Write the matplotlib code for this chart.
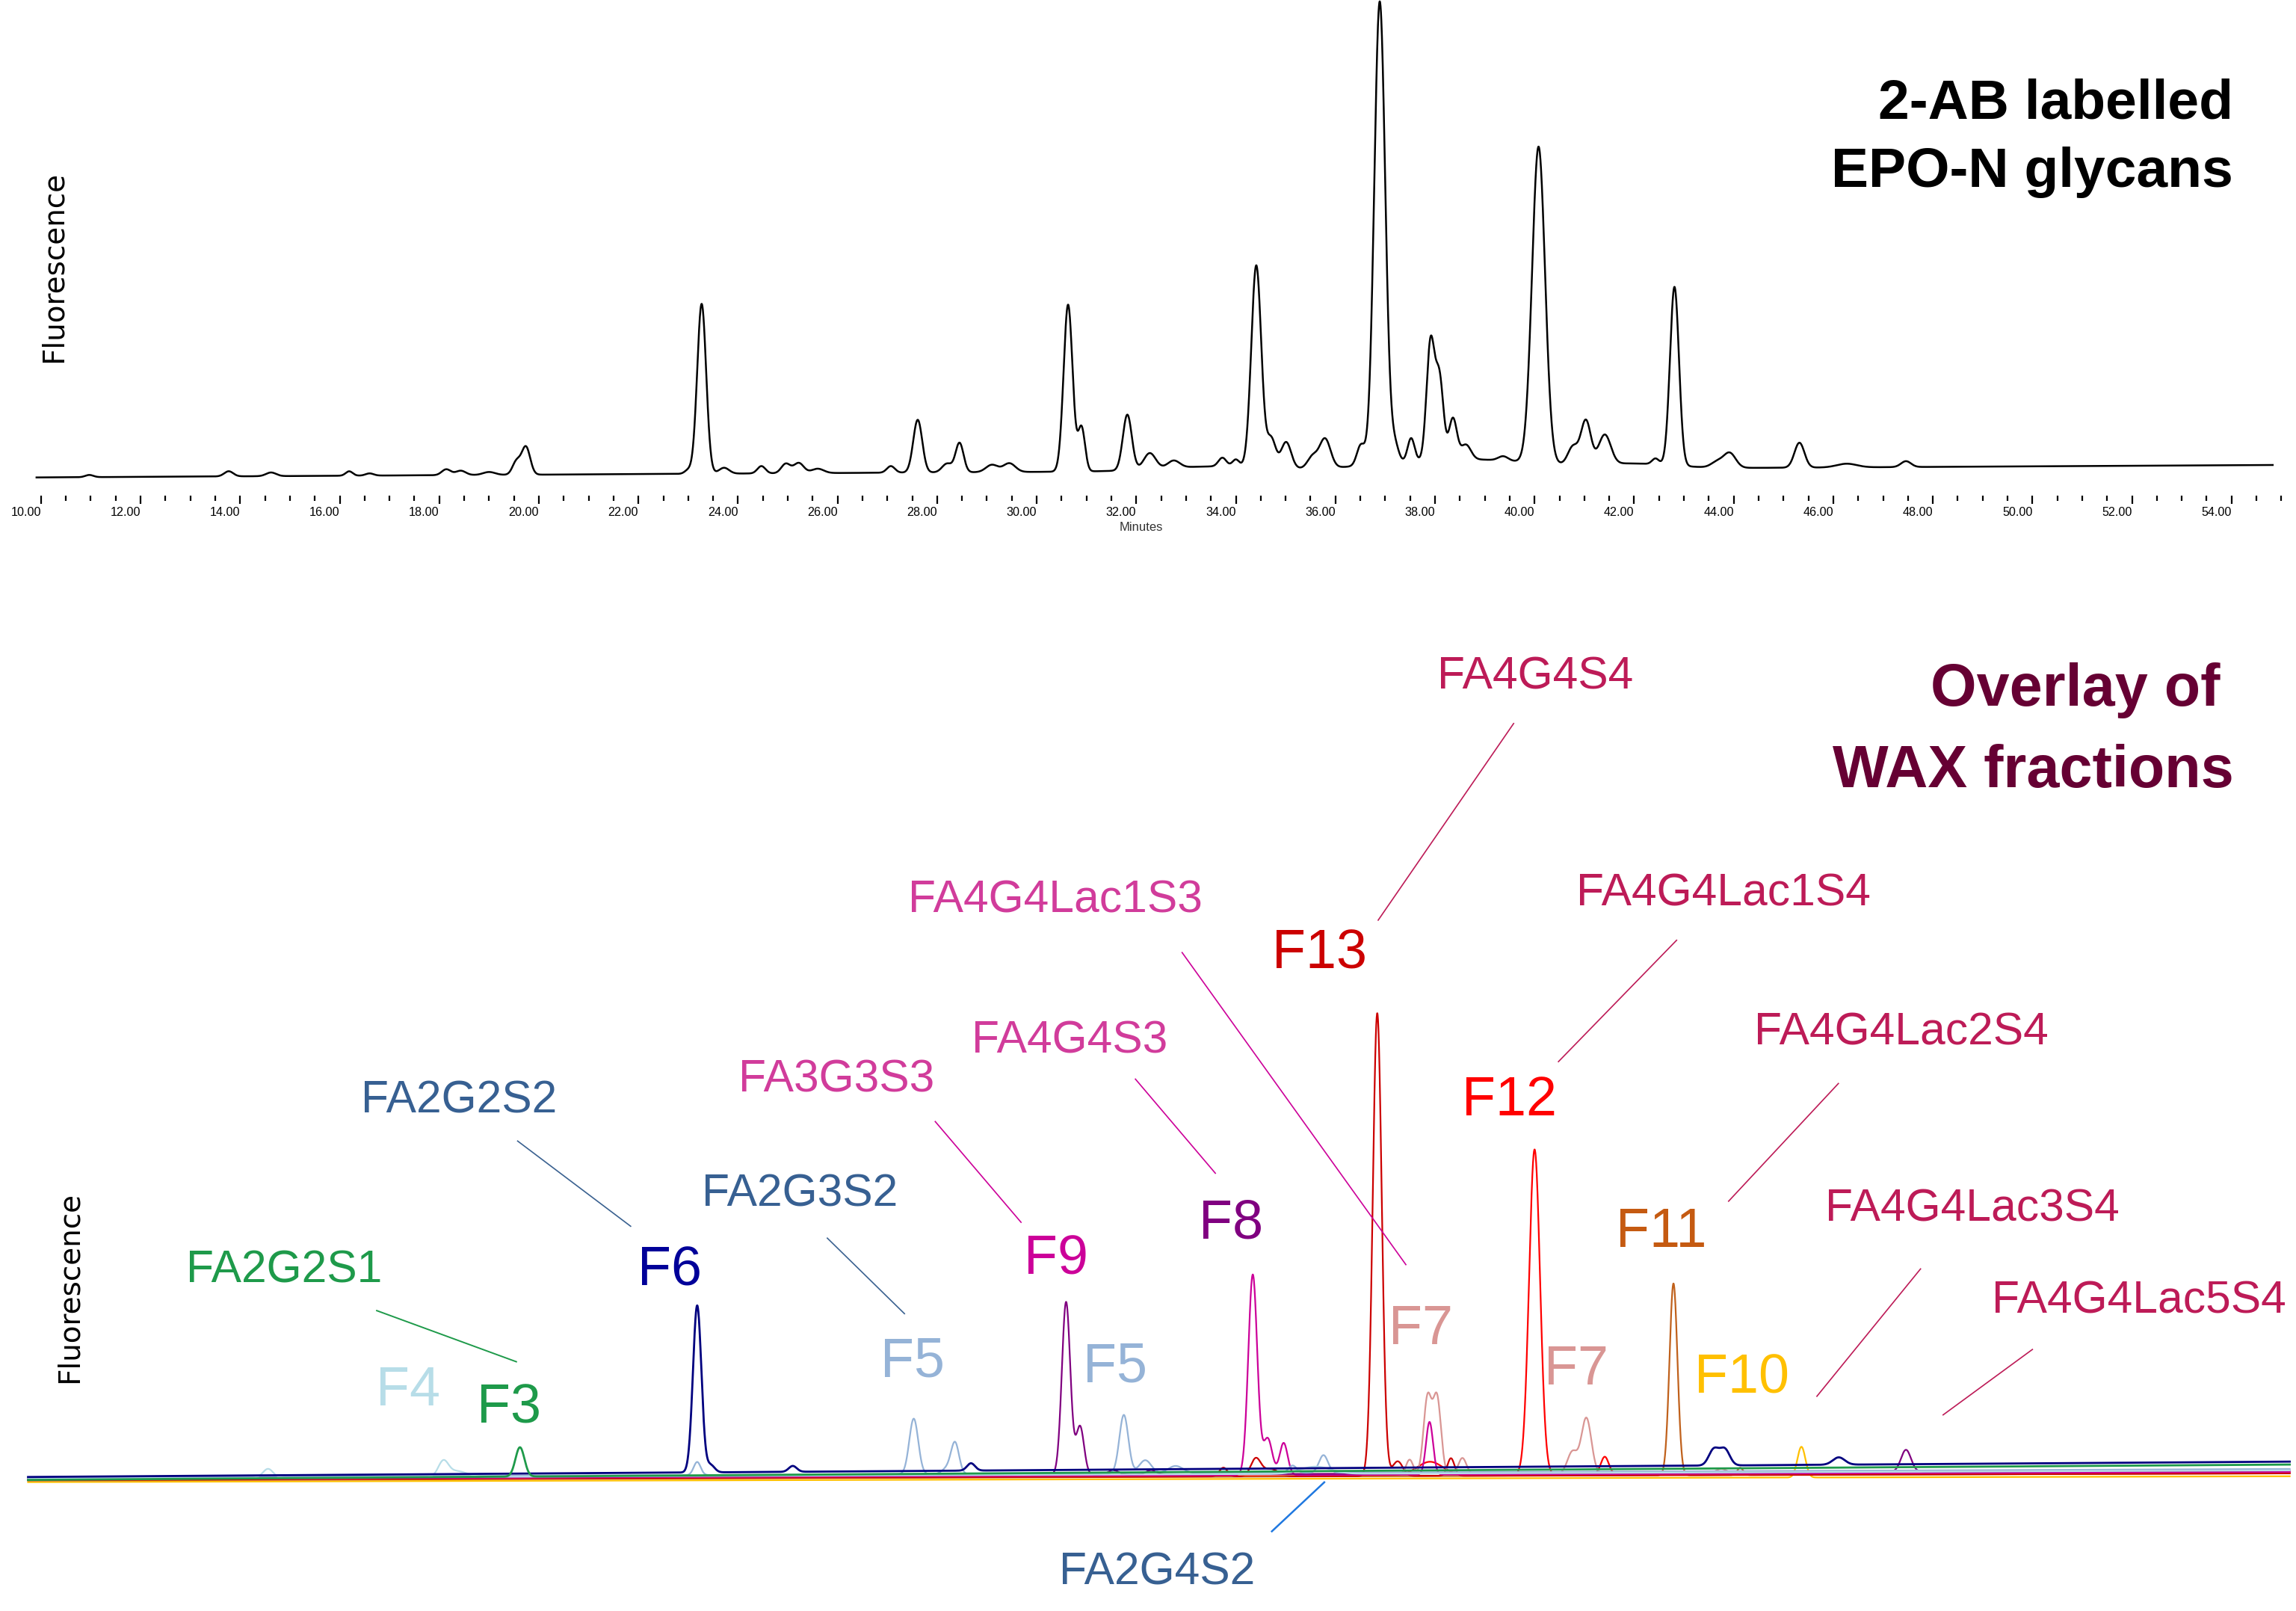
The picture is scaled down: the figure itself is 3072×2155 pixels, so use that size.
import numpy as np
import matplotlib.pyplot as plt
import matplotlib.transforms as mtransforms

#################################################################
#####   DATA               #####
#################################################################
# top chromatogram: retention time (min), height, peak width sigma (min)
top_rt = [10.97, 13.77, 14.62, 16.19, 16.6, 18.14, 18.43, 19.0, 19.55, 19.74,
          23.0, 23.27, 23.72, 24.47, 24.96, 25.22, 25.6, 27.07, 27.61, 28.2,
          28.45, 29.1, 29.45, 30.63, 30.9, 31.82, 32.27, 32.75, 33.73, 34.0,
          34.41, 34.71, 35.01, 35.54, 35.79, 36.51, 36.89, 37.19, 37.52, 37.91,
          38.09, 38.36, 38.62, 39.37, 40.08, 40.77, 41.03, 41.41, 42.43, 42.81,
          43.67, 43.92, 45.32, 46.27, 47.46, 33.5, 38.5, 42.0]
top_height = [1.5, 3.5, 2.5, 3.0, 1.5, 4.0, 3.0, 2.0, 9, 19,
              2.5, 116, 4, 5, 6.5, 7, 3, 4.5, 36, 6,
              20, 5, 6, 114, 30, 38, 11, 5, 6, 5,
              138, 20, 18, 8, 20, 14, 316, 12, 16, 80,
              55, 28, 10, 3, 216, 12, 30, 20, 4, 122,
              4, 10, 17, 2.5, 4, 3, 7, 3]
top_sigma = [0.08, 0.09, 0.1, 0.07, 0.08, 0.09, 0.1, 0.12, 0.08, 0.085,
             0.07, 0.09, 0.1, 0.08, 0.09, 0.1, 0.12, 0.08, 0.09, 0.1,
             0.08, 0.12, 0.12, 0.09, 0.07, 0.09, 0.12, 0.12, 0.08, 0.07,
             0.1, 0.09, 0.1, 0.1, 0.11, 0.08, 0.11, 0.08, 0.07, 0.08,
             0.08, 0.08, 0.1, 0.1, 0.13, 0.1, 0.1, 0.12, 0.07, 0.09,
             0.12, 0.12, 0.1, 0.2, 0.1, 1.0, 1.5, 0.8]
top_span = (9.91, 54.83)
top_drift = (0.0, 8.5)

# WAX fractions overlay: peaks per fraction trace
fractions = ['F10', 'F11', 'F12', 'F13', 'F7', 'F8', 'F9', 'F5', 'F4', 'F6', 'F3']
frac_rt = {
    'F3': [19.62],
    'F4': [14.56, 18.08, 18.35, 35.6],
    'F5': [23.18, 27.53, 28.2, 28.36, 31.75, 32.18, 32.79, 35.14, 35.76],
    'F6': [23.18, 23.45, 25.1, 28.68, 43.6, 43.82, 46.11],
    'F7': [37.49, 37.85, 38.04, 38.55, 40.76, 41.04, 43.75],
    'F8': [34.34, 34.64, 34.96, 37.89],
    'F9': [30.59, 30.87, 31.54, 32.3, 47.46],
    'F10': [45.36],
    'F11': [42.79, 44.13],
    'F12': [37.9, 40.0, 41.41],
    'F13': [33.75, 34.4, 34.7, 36.84, 37.25, 38.32],
}
frac_height = {
    'F3': [20],
    'F4': [6, 10, 4, 5],
    'F5': [9, 38, 4, 21, 40, 9, 5, 5, 12],
    'F6': [114, 5, 4, 5, 11, 11, 5],
    'F7': [10, 52, 52, 11, 15, 38, 3],
    'F8': [137, 25, 22, 36],
    'F9': [118, 33, 3, 3, 15],
    'F10': [21],
    'F11': [131, 5],
    'F12': [9, 222, 12],
    'F13': [6, 12, 5, 316, 10, 12],
}
frac_sigma = {
    'F3': [0.09],
    'F4': [0.1, 0.1, 0.2, 0.3],
    'F5': [0.07, 0.09, 0.1, 0.08, 0.09, 0.12, 0.15, 0.08, 0.09],
    'F6': [0.085, 0.08, 0.08, 0.08, 0.1, 0.1, 0.12],
    'F7': [0.07, 0.08, 0.08, 0.08, 0.1, 0.1, 0.1],
    'F8': [0.09, 0.09, 0.08, 0.07],
    'F9': [0.085, 0.08, 0.1, 0.1, 0.1],
    'F10': [0.08],
    'F11': [0.08, 0.06],
    'F12': [0.25, 0.11, 0.08],
    'F13': [0.08, 0.1, 0.15, 0.09, 0.1, 0.07],
}
# baseline level at start / end of the run
frac_drift = {
    'F3': (1.5, 12), 'F4': (2.5, 8), 'F5': (3, 9), 'F6': (3.5, 14),
    'F7': (2, 7.5), 'F8': (2, 7), 'F9': (2.5, 8), 'F10': (0, 4),
    'F11': (1, 6), 'F12': (1.5, 7), 'F13': (1.5, 6),
}
frac_span = (9.74, 55.17)

major_ticks = np.arange(10, 55, 2)
minor_ticks = np.arange(10, 55.01, 0.5)

frac_labels = ['F4', 'F3', 'F6', 'F5', 'F9', 'F5', 'F8', 'F13', 'F7', 'F12', 'F7', 'F11', 'F10']
glycan_labels = ['FA2G2S1', 'FA2G2S2', 'FA2G3S2', 'FA3G3S3', 'FA4G4S3', 'FA4G4Lac1S3',
                 'FA4G4S4', 'FA4G4Lac1S4', 'FA4G4Lac2S4', 'FA4G4Lac3S4', 'FA4G4Lac5S4', 'FA2G4S2']

#################################################################
#####   STYLE / LAYOUT                                      #####
#################################################################
trace_color = {'F3': '#1E9A4A', 'F4': '#B7DDE8', 'F5': '#95B3D7', 'F6': '#00007F',
               'F7': '#D99694', 'F8': '#CC0099', 'F9': '#800080', 'F10': '#FFC000',
               'F11': '#C0611C', 'F12': '#FF0000', 'F13': '#CC0000'}
trace_lw = {'F3': 1.0, 'F6': 1.0}

green = '#1E9A4A'
blue = '#376092'
pink = '#D13C9B'
crimson = '#BD1B57'

# positions in pixels of the 1568 x 1100 reference view
frac_pos = [(278.8, 959.6, '#B7DDE8'), (347.4, 971.7, '#1E9A4A'), (457.3, 877.5, '#000099'),
            (623.3, 940.0, '#95B3D7'), (721.0, 870.2, '#CC0099'), (761.7, 943.5, '#95B3D7'),
            (840.5, 845.6, '#800080'), (901.0, 661.5, '#CC0000'), (970.5, 918.0, '#D99694'),
            (1030.8, 761.5, '#FF0000'), (1076.3, 945.2, '#D99694'), (1134.4, 851.6, '#C55A11'),
            (1189.3, 951.2, '#FFC000')]
glycan_pos = [(194.0, 875.8, green), (313.7, 760.0, blue), (546.2, 823.6, blue),
              (571.3, 745.3, pink), (730.3, 719.2, pink), (720.9, 623.0, pink),
              (1048.3, 470.4, crimson), (1177.0, 618.6, crimson), (1298.5, 713.3, crimson),
              (1346.9, 833.7, crimson), (1460.6, 896.7, crimson), (790.0, 1082.0, blue)]
leaders = [((257.3, 894.9), (352.6, 929.8), green, 0.7),
           ((353.5, 779.1), (430.7, 837.3), '#3A6190', 0.6),
           ((565.0, 845.4), (617.7, 897.0), '#3A6190', 0.6),
           ((638.7, 765.8), (697.3, 834.6), '#CC0099', 0.6),
           ((775.4, 736.8), (830.0, 801.1), '#CC0099', 0.6),
           ((807.3, 650.4), (960.1, 863.5), '#CC0099', 0.6),
           ((1033.7, 494.0), (941.2, 628.3), crimson, 0.6),
           ((1145.0, 642.0), (1064.3, 724.9), crimson, 0.6),
           ((1255.5, 739.8), (1180.5, 820.2), crimson, 0.6),
           ((1311.6, 866.4), (1240.8, 953.4), crimson, 0.6),
           ((1388.0, 921.4), (1327.0, 966.1), crimson, 0.6),
           ((868.6, 1045.6), (904.4, 1012.1), '#1F78E0', 0.9)]

REF_W, REF_H = 1568.0, 1100.0
xlim = (10 - 28 / 34.0, 10 + (REF_W - 28) / 34.0)

arial = ['Liberation Sans', 'DejaVu Sans']


def chromatogram(t, rts, hs, sigs, drift):
    y = np.linspace(drift[0], drift[1], t.size)
    for r, h, s in zip(rts, hs, sigs):
        y = y + h * np.exp(-0.5 * ((t - r) / s) ** 2)
    return y


#################################################################
#####   FIGURE                                              #####
#################################################################
fig = plt.figure(figsize=(15.36, 10.775), dpi=200)
ref = mtransforms.Affine2D().scale(1 / REF_W, -1 / REF_H).translate(0, 1) + fig.transFigure

# ---- top: 2-AB labelled glycans
ax1 = fig.add_axes([0, 1 - 338.5 / REF_H, 1, 338.5 / REF_H])
t_top = np.arange(top_span[0], top_span[1], 0.004)
ax1.plot(t_top, chromatogram(t_top, top_rt, top_height, top_sigma, top_drift),
         color='black', lw=0.9)
ax1.set_xlim(xlim)
ax1.set_ylim(-12.5, 326)
for sp in ax1.spines.values():
    sp.set_visible(False)
ax1.set_yticks([])
ax1.set_xticks(major_ticks)
ax1.set_xticks(minor_ticks, minor=True)
ax1.set_xticklabels(['%.2f' % v for v in major_ticks])
ax1.tick_params(axis='x', which='major', length=4.0, width=0.8, pad=1.2,
                labelsize=5.8, direction='out')
ax1.tick_params(axis='x', which='minor', length=2.5, width=0.8, direction='out')
for lab in ax1.get_xticklabels():
    lab.set_horizontalalignment('right')
    lab.set_family(arial)
ax1.patch.set_alpha(0)

fig.text(779.5 / REF_W, 1 - 360 / REF_H, 'Minutes', ha='center', va='center',
         fontsize=6, color='#333333', family=arial)
fig.text(36.5 / REF_W, 1 - 182 / REF_H, 'Fluorescence', rotation=90, ha='center',
         va='center', fontsize=14, family='DejaVu Sans')
fig.text(1525 / REF_W, 1 - 81 / REF_H, '2-AB labelled', ha='right', va='baseline',
         fontsize=27, fontweight='bold', family=arial)
fig.text(1525 / REF_W, 1 - 127.6 / REF_H, 'EPO-N glycans', ha='right', va='baseline',
         fontsize=27, fontweight='bold', family=arial)

# ---- bottom: overlay of WAX fractions
ax2 = fig.add_axes([0, 0, 1, 680 / REF_H])
t_frac = np.arange(frac_span[0], frac_span[1], 0.004)
for f in fractions:
    ax2.plot(t_frac, chromatogram(t_frac, frac_rt[f], frac_height[f], frac_sigma[f], frac_drift[f]),
             color=trace_color[f], lw=trace_lw.get(f, 0.8))
ax2.set_xlim(xlim)
ax2.set_ylim(1012 - REF_H, 1012 - 420)
ax2.axis('off')

fig.text(47.5 / REF_W, 1 - 879 / REF_H, 'Fluorescence', rotation=90, ha='center',
         va='center', fontsize=14, family='DejaVu Sans')
fig.text(1516 / REF_W, 1 - 481.8 / REF_H, 'Overlay of', ha='right', va='baseline',
         fontsize=28.5, fontweight='bold', color='#660033', family=arial)
fig.text(1525.6 / REF_W, 1 - 537.4 / REF_H, 'WAX fractions', ha='right', va='baseline',
         fontsize=28.5, fontweight='bold', color='#660033', family=arial)

for (p0, p1, col, lw) in leaders:
    fig.add_artist(plt.Line2D([p0[0], p1[0]], [p0[1], p1[1]], transform=ref,
                              color=col, lw=lw))

for name, (x, y, col) in zip(frac_labels, frac_pos):
    fig.text(x, y, name, transform=ref, ha='center', va='baseline', fontsize=26.5,
             color=col, family=arial)

for name, (x, y, col) in zip(glycan_labels, glycan_pos):
    fig.text(x, y, name, transform=ref, ha='center', va='baseline', fontsize=21.8,
             color=col, family=arial)

fig.savefig('out.png', dpi=200)
